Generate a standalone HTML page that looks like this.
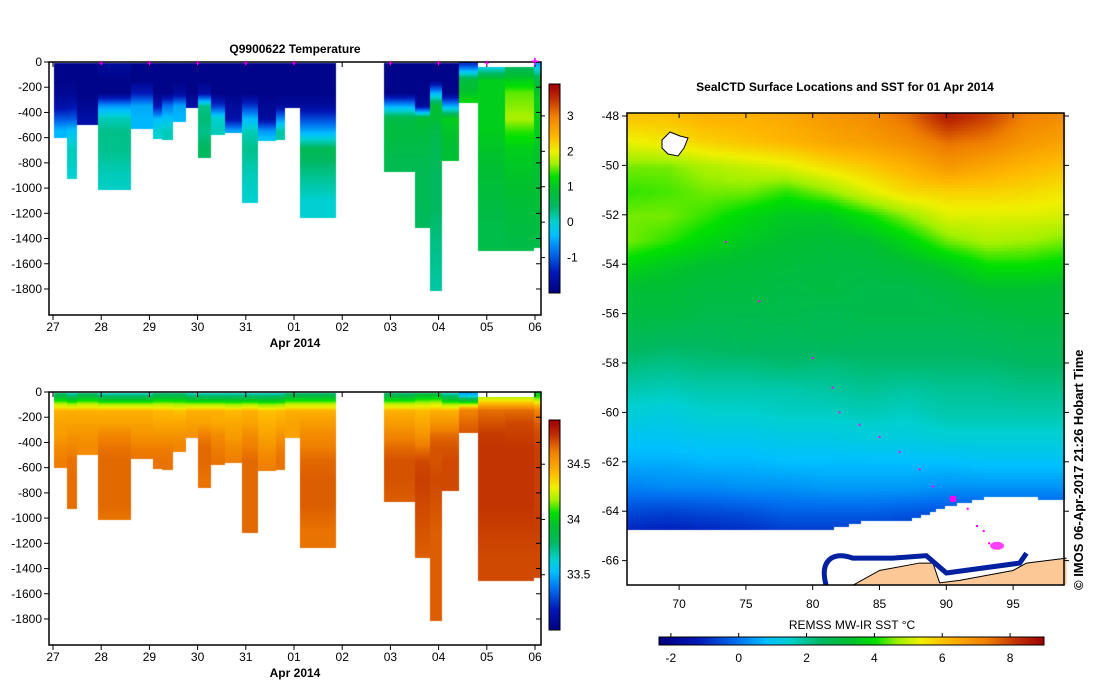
<!DOCTYPE html>
<html><head><meta charset="utf-8">
<style>
body{margin:0;background:#fff;width:1099px;height:700px;overflow:hidden;position:relative;font-family:"Liberation Sans",sans-serif;}
canvas{position:absolute;left:0;top:0;}
svg{position:absolute;left:0;top:0;}
</style></head>
<body>
<canvas id="cv" width="1099" height="700"></canvas>
<svg id="sv" width="1099" height="700"></svg>
<script>
// ---------- data ----------
const colStart=[0.03,0.29,0.5,0.94,1.62,2.07,2.26,2.49,2.76,3.01,3.28,3.57,3.92,4.25,4.63,4.81,5.12,6.87,7.51,7.82,8.07,8.42,8.82,9.38,9.98];
const colEnd=[0.29,0.5,0.94,1.62,2.07,2.26,2.49,2.76,3.01,3.28,3.57,3.92,4.25,4.63,4.81,5.12,5.87,7.51,7.82,8.07,8.42,8.82,9.38,9.98,10.12];
const maxDepth=[602,926,499,1011,530,609,615,472,364,757,578,562,1113,625,615,364,1232,868,1311,1810,781,325,1493,1493,1472];
const topDepth=[15,15,15,15,15,15,15,15,15,15,15,15,15,15,15,15,15,15,15,15,15,5,45,45,5];
const levels=[25,150,250,350,450,550,700,900,1100,1300,1500,1800];
const tempProf=[
[-1.9,-1.9,-1.8,-1.6,-1.0,-0.4,-0.4,-0.4,-0.4,-0.4,-0.4,-0.4],
[-1.9,-1.9,-1.8,-1.5,-1.0,-0.3,0.1,0.0,0,0,0,0],
[-1.9,-1.9,-1.9,-1.8,-1.6,-1.6,-1.6,-1.6,-1.6,-1.6,-1.6,-1.6],
[-1.7,-1.9,-1.9,-0.6,0.1,0.3,0.3,0.1,0.0,0,0,0],
[-1.9,-1.9,-1.4,-0.5,-0.4,-0.4,-0.4,-0.4,-0.4,-0.4,-0.4,-0.4],
[-1.9,-1.9,-1.9,-1.5,-0.4,0.0,0,0,0,0,0,0],
[-1.9,-1.9,-1.9,-0.8,-0.3,0.1,0.1,0.1,0.1,0.1,0.1,0.1],
[-1.9,-1.9,-1.7,-0.5,-0.4,-0.4,-0.4,-0.4,-0.4,-0.4,-0.4,-0.4],
[-1.9,-1.9,-1.9,-1.6,-1.6,-1.6,-1.6,-1.6,-1.6,-1.6,-1.6,-1.6],
[-1.9,-1.9,-1.6,0.3,0.4,0.3,0.5,0.5,0.5,0.5,0.5,0.5],
[-1.9,-1.9,-1.9,-1.2,0.0,0.1,0.1,0.1,0.1,0.1,0.1,0.1],
[-1.9,-1.9,-1.9,-1.7,-1.6,-0.5,-0.5,-0.5,-0.5,-0.5,-0.5,-0.5],
[-1.9,-1.9,-1.9,-1.2,-0.4,0.1,0.3,0.1,0.0,0,0,0],
[-1.9,-1.9,-1.9,-1.8,-1.7,-0.6,0.1,0.1,0.1,0.1,0.1,0.1],
[-1.9,-1.9,-1.9,-1.7,-0.7,0.2,0.2,0.2,0.2,0.2,0.2,0.2],
[-1.9,-1.9,-1.9,-1.7,-1.7,-1.7,-1.7,-1.7,-1.7,-1.7,-1.7,-1.7],
[-1.9,-1.9,-1.9,-1.7,-1.1,-0.5,0.6,0.3,0.0,0.0,0,0],
[-1.9,-1.9,-1.9,-0.5,0.7,0.8,0.7,0.6,0.6,0.6,0.6,0.6],
[-1.9,-1.9,-1.9,-1.7,0.9,0.8,0.7,0.6,0.6,0.5,0.5,0.5],
[-1.9,-1.9,-0.4,0.9,0.9,0.7,0.6,0.5,0.5,0.4,0.3,0.2],
[-1.9,-1.9,-1.9,-0.5,1.1,1.0,0.9,0.9,0.9,0.9,0.9,0.9],
[-1.2,0.8,1.0,1.3,1.3,1.3,1.3,1.3,1.3,1.3,1.3,1.3],
[-0.4,1.1,1.1,1.1,1.1,1.1,1.0,0.9,0.8,0.7,0.7,0.7],
[0.4,1.1,1.5,1.6,1.7,1.4,1.1,1.0,0.9,0.8,0.7,0.7],
[-0.5,0.8,1.0,1.1,1.1,1.1,1.0,0.9,0.9,0.8,0.7,0.7]];
const salProf=[
[33.8,34.45,34.5,34.52,34.58,34.62,34.62,34.62,34.62,34.62,34.62,34.62],
[33.7,34.45,34.5,34.55,34.6,34.64,34.65,34.65,34.65,34.65,34.65,34.65],
[33.8,34.45,34.5,34.55,34.58,34.58,34.58,34.58,34.58,34.58,34.58,34.58],
[33.7,34.45,34.5,34.6,34.64,34.66,34.66,34.66,34.62,34.62,34.62,34.62],
[33.7,34.45,34.5,34.55,34.62,34.64,34.64,34.64,34.64,34.64,34.64,34.64],
[33.8,34.42,34.48,34.55,34.62,34.64,34.64,34.64,34.64,34.64,34.64,34.64],
[33.8,34.42,34.48,34.55,34.62,34.64,34.64,34.64,34.64,34.64,34.64,34.64],
[33.8,34.4,34.48,34.55,34.6,34.6,34.6,34.6,34.6,34.6,34.6,34.6],
[33.7,34.45,34.5,34.55,34.55,34.55,34.55,34.55,34.55,34.55,34.55,34.55],
[33.7,34.45,34.5,34.62,34.66,34.66,34.64,34.64,34.64,34.64,34.64,34.64],
[33.7,34.45,34.48,34.58,34.62,34.64,34.64,34.64,34.64,34.64,34.64,34.64],
[33.7,34.42,34.48,34.52,34.58,34.62,34.62,34.62,34.62,34.62,34.62,34.62],
[33.7,34.45,34.5,34.58,34.62,34.66,34.66,34.66,34.66,34.66,34.66,34.66],
[33.7,34.4,34.45,34.5,34.55,34.6,34.64,34.64,34.64,34.64,34.64,34.64],
[33.7,34.42,34.48,34.55,34.62,34.64,34.64,34.64,34.64,34.64,34.64,34.64],
[33.8,34.45,34.5,34.5,34.5,34.5,34.5,34.5,34.5,34.5,34.5,34.5],
[33.8,34.45,34.52,34.58,34.62,34.66,34.68,34.68,34.64,34.64,34.64,34.64],
[33.8,34.45,34.52,34.6,34.66,34.7,34.7,34.68,34.68,34.68,34.68,34.68],
[33.9,34.42,34.48,34.55,34.64,34.72,34.74,34.72,34.7,34.68,34.68,34.68],
[33.9,34.45,34.55,34.66,34.7,34.7,34.72,34.7,34.68,34.68,34.68,34.68],
[33.7,34.45,34.55,34.66,34.7,34.72,34.72,34.72,34.72,34.72,34.72,34.72],
[33.5,34.6,34.66,34.7,34.7,34.7,34.7,34.7,34.7,34.7,34.7,34.7],
[34.1,34.65,34.7,34.75,34.76,34.76,34.76,34.76,34.74,34.72,34.72,34.72],
[34.1,34.65,34.72,34.74,34.76,34.76,34.76,34.76,34.74,34.72,34.72,34.72],
[34.0,34.6,34.68,34.72,34.74,34.74,34.74,34.74,34.74,34.72,34.72,34.72]];
const depthTicks=[0,-200,-400,-600,-800,-1000,-1200,-1400,-1600,-1800];
const dayLabels=["27","28","29","30","31","01","02","03","04","05","06"];
const markerDays=[1,2,3,4,5,7,8,9,10];
const tempTicks=[3,2,1,0,-1];
const salTicks=[34.5,34,33.5];
// SST grid
const sstLons=[66,69,72,75,78,81,84,87,90,93,96,99];
const sstLats=[-48,-49,-50,-51,-52,-53,-54,-55,-56,-57,-58,-59,-60,-61,-62,-63,-64,-65];
const sstGrid=[
[6,6,6.3,6.3,6.5,6.8,7,7.5,8.5,8,7.2,7],
[5.3,5.5,5.8,6,6.2,6.5,6.7,7,7.5,7.3,6.8,6.6],
[4.5,4.5,4.8,5,5.2,5.6,5.9,6.3,6.8,6.5,6.2,6],
[4.2,4.3,4.5,4.5,4.2,4.6,5.2,5.7,5.8,5.8,5.7,5.5],
[4.5,4.5,4.2,3.8,3.5,3.5,4,4.6,5.2,5.2,5.2,5.1],
[4.5,4.2,3.8,3.5,3.3,3.2,3.3,3.8,4.5,4.8,4.7,4.5],
[3.8,3.5,3.3,3.2,3.1,3,3,3.2,3.5,4,4,3.8],
[3.2,3.2,3,3,2.9,3,2.8,2.8,3,3.3,3.3,3.2],
[3,3,2.8,2.8,2.8,2.7,2.8,2.8,2.8,2.9,3,3],
[2.6,2.5,2.5,2.6,2.5,2.6,2.5,2.5,2.5,2.6,2.7,2.7],
[2.2,2.1,2.2,2.2,2.3,2.2,2.3,2.3,2.3,2.3,2.4,2.4],
[1.8,1.7,1.8,1.8,1.8,1.9,2,1.9,2,2,2.1,2.1],
[1.4,1.3,1.5,1.5,1.6,1.6,1.7,1.6,1.8,1.8,1.8,1.8],
[1,1,1.1,1.1,1.2,1.2,1.3,1.3,1.4,1.4,1.4,1.4],
[0.6,0.6,0.7,0.7,0.8,0.8,0.8,0.8,0.8,0.9,0.9,0.9],
[0.1,0.2,0.2,0.3,0.3,0.4,0.4,0.4,0.3,0.3,0.3,0.3],
[-0.6,-0.7,-0.6,-0.5,-0.3,-0.3,-0.3,-0.4,-0.5,-0.5,-0.5,-0.5],
[-1.2,-1.3,-1.2,-1.1,-0.9,-0.9,-0.9,-1.0,-1.0,-1.0,-1.0,-1.0]];
const iceEdgeLat=[-64.7,-64.7,-64.7,-64.7,-64.7,-64.7,-64.35,-64.35,-63.75,-63.4,-63.4,-63.5];
const landLon=[83,85,88,89,89.5,91,95,96,99,99];
const landLat=[-67,-66.4,-66.1,-66.1,-66.9,-66.8,-66.4,-66.1,-65.9,-67];
const trackLon=[73.5,76,80,81.5,82,83.5,85,86.5,88,89,90.5,91.6,92.3,92.8,93.2,93.6,93.9];
const trackLat=[-53.1,-55.5,-57.8,-59,-60,-60.5,-61,-61.6,-62.3,-63,-63.5,-63.9,-64.6,-64.8,-65.3,-65.5,-65.4];
const lonTicks=[70,75,80,85,90,95];
const latTicks=[-48,-50,-52,-54,-56,-58,-60,-62,-64,-66];
const sstTicks=[-2,0,2,4,6,8];

// ---------- colormap ----------
const stops=[[0,'#000080'],[0.1,'#0018b8'],[0.2,'#0070f0'],[0.28,'#00c0ff'],[0.34,'#00d0d0'],[0.42,'#00b860'],[0.5,'#00c030'],[0.56,'#00e000'],[0.62,'#a0f000'],[0.68,'#f0f000'],[0.75,'#ffb800'],[0.85,'#f08000'],[0.93,'#c03000'],[1,'#a00000']];
function hx(h){return [parseInt(h.substr(1,2),16),parseInt(h.substr(3,2),16),parseInt(h.substr(5,2),16)];}
const stopRGB=stops.map(s=>[s[0],hx(s[1])]);
function cmap(t){t=Math.max(0,Math.min(1,t));for(let i=1;i<stopRGB.length;i++){if(t<=stopRGB[i][0]){const a=stopRGB[i-1],b=stopRGB[i];const f=(t-a[0])/(b[0]-a[0]);return 'rgb('+a[1].map((v,k)=>Math.round(v+(b[1][k]-v)*f)).join(',')+')';}}return 'rgb(160,0,0)';}
function interp(prof,d){if(d<=levels[0])return prof[0];for(let i=1;i<levels.length;i++){if(d<=levels[i]){const f=(d-levels[i-1])/(levels[i]-levels[i-1]);return prof[i-1]+(prof[i]-prof[i-1])*f;}}return prof[prof.length-1];}

const cv=document.getElementById('cv');const ctx=cv.getContext('2d');
const sv=document.getElementById('sv');const NS='http://www.w3.org/2000/svg';
function el(tag,attrs,text){const e=document.createElementNS(NS,tag);for(const k in attrs)e.setAttribute(k,attrs[k]);if(text!==undefined)e.textContent=text;sv.appendChild(e);return e;}

// ---------- section panels ----------
const X0=53,PX_DAY=48.2;
function xDay(d){return X0+d*PX_DAY;}
function drawSection(y0,profs,vmin,vmax,name,cbTop,cbBot,ticks){
  const yD=d=>y0+d*0.1261;
  for(let i=0;i<colStart.length;i++){
    const xa=Math.round(xDay(colStart[i])),xb=Math.round(xDay(colEnd[i]));
    for(let d=topDepth[i];d<maxDepth[i];d+=8){
      const v=interp(profs[i],d+4);
      ctx.fillStyle=cmap((v-vmin)/(vmax-vmin));
      const ya=Math.floor(yD(d)),yb=Math.ceil(yD(Math.min(d+8,maxDepth[i])));
      ctx.fillRect(xa,ya,xb-xa,yb-ya);
    }
  }
  const fr=el('rect',{x:49,y:y0,width:492,height:253,fill:'none',stroke:'#000','stroke-width':1.5});
  
  depthTicks.forEach(t=>{const y=yD(-t);
    el('line',{x1:49,x2:44,y1:y,y2:y,stroke:'#000'});
    el('line',{x1:541,x2:536,y1:y,y2:y,stroke:'#000'});
    const tx=el('text',{x:42,y:y+4,'text-anchor':'end','font-size':12},t);
    });
  dayLabels.forEach((l,i)=>{const x=xDay(i);
    el('line',{x1:x,x2:x,y1:y0+253,y2:y0+258,stroke:'#000'});
    el('line',{x1:x,x2:x,y1:y0,y2:y0+5,stroke:'#000'});
    const tx=el('text',{x:x,y:y0+269,'text-anchor':'middle','font-size':12},l);
    });
  const xl=el('text',{x:295,y:y0+285,'text-anchor':'middle','font-size':12,'font-weight':'bold'},'Apr 2014');
  
  const h=cbBot-cbTop;
  for(let k=0;k<h;k++){ctx.fillStyle=cmap(1-k/h);ctx.fillRect(549,cbTop+k,11,1);}
  const cb=el('rect',{x:549,y:cbTop,width:11,height:h,fill:'none',stroke:'#000'});
  
  ticks.forEach(t=>{const y=cbBot-(t-vmin)/(vmax-vmin)*h;
    el('line',{x1:541,x2:545,y1:y,y2:y,stroke:'#000'});
    const tx=el('text',{x:567,y:y+4,'font-size':12},t);
    });
}
drawSection(62,tempProf,-2,3.9,'temperature',84,293,tempTicks);
drawSection(392,salProf,33.0,34.9,'salinity',420,630,salTicks);
markerDays.forEach((d,i)=>{const x=xDay(d);
  const m=el('text',{x:x,y:66,'text-anchor':'middle','font-size':i==markerDays.length-1?14:9,fill:'#ff00ff','font-weight':'bold'},'+');
  });
const t1=el('text',{x:295,y:53,'text-anchor':'middle','font-size':12,'font-weight':'bold'},'Q9900622  Temperature');


// ---------- map ----------
const MX0=627,MX1=1064,MY0=113,MY1=585;
const lonX=lo=>MX0+(lo-66.1)*13.36;
const latY=la=>116+(-48-la)*24.7;
const SMIN=-2.35,SMAX=9.0;
function sstAt(lo,la){
  let fi=(lo-66)/3, fj=(-48-la);
  fi=Math.max(0,Math.min(sstLons.length-1.001,fi));fj=Math.max(0,Math.min(sstLats.length-1.001,fj));
  const i=Math.floor(fi),j=Math.floor(fj),a=fi-i,b=fj-j;
  return sstGrid[j][i]*(1-a)*(1-b)+sstGrid[j][i+1]*a*(1-b)+sstGrid[j+1][i]*(1-a)*b+sstGrid[j+1][i+1]*a*b;
}
function iceAt(lo){let fi=Math.max(0,Math.min(sstLons.length-1.001,(lo-66)/3));const i=Math.floor(fi),a=fi-i;return iceEdgeLat[i]*(1-a)+iceEdgeLat[i+1]*a;}
for(let y=MY0;y<MY1;y+=3){for(let x=MX0;x<MX1;x+=3){
  const lo=66.1+(x-MX0)/13.36, la=-48-(y-116)/24.7;
  if(la<iceAt(lo))continue;
  ctx.fillStyle=cmap((sstAt(lo,la)-SMIN)/(SMAX-SMIN));ctx.fillRect(x,y,3,3);}}
ctx.fillStyle='#fcc896';ctx.beginPath();
landLon.forEach((lo,i)=>{const x=lonX(lo),y=Math.min(latY(landLat[i]),MY1);i?ctx.lineTo(x,y):ctx.moveTo(x,y);});
ctx.closePath();ctx.fill();
const land=el('polyline',{points:landLon.slice(0,9).map((lo,i)=>lonX(lo)+','+latY(landLat[i])).join(' '),fill:'none',stroke:'#000','stroke-width':1});

const ice=el('path',{d:'M'+lonX(81)+','+MY1+' C'+lonX(80.5)+','+latY(-66)+' '+lonX(81.5)+','+latY(-65.6)+' '+lonX(83)+','+latY(-65.9)+' L'+lonX(86)+','+latY(-65.9)+' L'+lonX(88.5)+','+latY(-65.8)+' L'+lonX(90)+','+latY(-66.5)+' L'+lonX(95.5)+','+latY(-66.1)+' L'+lonX(96)+','+latY(-65.7),fill:'none',stroke:'#0020a0','stroke-width':5});

trackLon.forEach((lo,i)=>{const big=(i==10);
  const c=el('rect',{x:lonX(lo)-(big?3:1),y:latY(trackLat[i])-(big?3:1),width:big?6:2,height:big?6:2,fill:'#ff00ff'});
  });
const clust=el('ellipse',{cx:lonX(93.8),cy:latY(-65.4),rx:7,ry:4,fill:'#ff40ff'});

const cloud=el('path',{d:'M662,140 l8,-8 l10,4 l8,2 l-4,10 l-6,8 l-10,-2 l-6,-6 z',fill:'#fff',stroke:'#000','stroke-width':1});

const mf=el('rect',{x:MX0,y:MY0,width:MX1-MX0,height:MY1-MY0,fill:'none',stroke:'#000','stroke-width':1.5});

lonTicks.forEach(lo=>{const x=lonX(lo);el('line',{x1:x,x2:x,y1:MY1,y2:MY1+5,stroke:'#000'});el('line',{x1:x,x2:x,y1:MY0,y2:MY0+5,stroke:'#000'});
  const tx=el('text',{x:x,y:608,'text-anchor':'middle','font-size':12},lo);});
latTicks.forEach(la=>{const y=latY(la);el('line',{x1:MX0-5,x2:MX0,y1:y,y2:y,stroke:'#000'});el('line',{x1:MX1,x2:MX1+5,y1:y,y2:y,stroke:'#000'});
  const tx=el('text',{x:MX0-8,y:y+4,'text-anchor':'end','font-size':12},la);});
const mt=el('text',{x:845,y:91,'text-anchor':'middle','font-size':12,'font-weight':'bold'},'SealCTD Surface Locations and SST for 01 Apr 2014');

const cr=el('text',{x:0,y:0,transform:'translate(1083,590) rotate(-90)','font-size':13,'font-weight':'bold'},'© IMOS 06-Apr-2017 21:26 Hobart Time');

for(let x=659;x<1044;x++){ctx.fillStyle=cmap((x-659)/385);ctx.fillRect(x,637,1,8);}
const scb=el('rect',{x:659,y:637,width:385,height:8,fill:'none',stroke:'#000'});

sstTicks.forEach(t=>{const x=659+(t-SMIN)/(SMAX-SMIN)*385;el('line',{x1:x,x2:x,y1:633,y2:637,stroke:'#000'});
  const tx=el('text',{x:x,y:662,'text-anchor':'middle','font-size':12},t);});
const st=el('text',{x:852,y:629,'text-anchor':'middle','font-size':12},'REMSS MW-IR SST °C');

</script>
</body></html>
